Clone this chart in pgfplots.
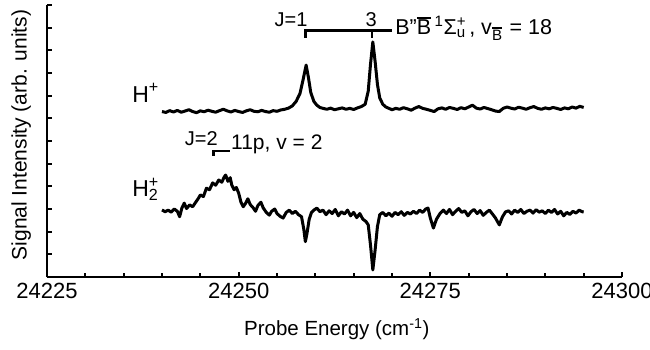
\documentclass[border=0pt]{standalone}
\usepackage{pgfplots}
\pgfplotsset{compat=1.18}
\usepackage{fontspec}
\setmainfont{Liberation Sans}
\newcommand{\ob}[1]{\leavevmode\vbox{\hrule height 1.8pt\kern 1pt\hbox{#1}}}
\begin{document}
\begin{tikzpicture}
\begin{axis}[
  name=ax,
  scale only axis,
  width=575pt, height=272pt,
  xmin=24225, xmax=24300, ymin=0, ymax=12,
  clip=false,
  axis x line=bottom, axis y line=left,
  axis line style={-, line width=2.8pt},
  xtick={24225,24250,24275,24300},
  xticklabels={24225,24250,24275,24300},
  scaled x ticks=false,
  minor x tick num=4,
  ytick={0,1,...,12},
  yticklabels={},
  tick align=inside,
  major tick length=5pt, minor tick length=4pt,
  every tick/.style={black, line width=2.2pt},
  xticklabel style={font=\fontsize{22}{24}\selectfont, yshift=-3pt},
  xlabel={Probe Energy (cm\textsuperscript{-1})},
  ylabel={Signal Intensity (arb. units)},
  xlabel style={font=\fontsize{20.5}{24}\selectfont, at={(axis description cs:0.504,-0.191)}, anchor=center},
  ylabel style={font=\fontsize{21}{24}\selectfont, at={(axis description cs:-0.045,0.522)}, anchor=center},
]
% H+ trace
\addplot[black, line width=3pt, line join=round] table {
24240.0 7.30
24240.5 7.26
24241.0 7.34
24241.5 7.28
24242.0 7.35
24242.5 7.27
24243.0 7.32
24243.5 7.38
24244.0 7.30
24244.5 7.25
24245.0 7.33
24245.5 7.29
24246.0 7.36
24246.5 7.31
24247.0 7.27
24247.5 7.34
24248.0 7.40
24248.5 7.33
24249.0 7.28
24249.5 7.35
24250.0 7.30
24250.5 7.26
24251.0 7.33
24251.5 7.38
24252.0 7.31
24252.5 7.29
24253.0 7.35
24253.5 7.30
24254.0 7.27
24254.5 7.34
24255.0 7.31
24255.5 7.37
24256.0 7.40
24256.5 7.45
24257.0 7.55
24257.5 7.75
24258.0 8.10
24258.4 8.70
24258.8 9.35
24259.1 8.80
24259.4 8.15
24259.8 7.75
24260.2 7.58
24260.6 7.48
24261.0 7.44
24261.5 7.40
24262.0 7.45
24262.5 7.38
24263.0 7.42
24263.5 7.46
24264.0 7.40
24264.5 7.44
24265.0 7.39
24265.5 7.46
24266.0 7.52
24266.5 7.62
24266.9 8.20
24267.2 9.40
24267.5 10.37
24267.8 9.50
24268.1 8.50
24268.4 7.90
24268.8 7.62
24269.2 7.50
24269.6 7.44
24270.0 7.38
24270.5 7.44
24271.0 7.40
24271.5 7.47
24272.0 7.42
24272.5 7.36
24273.0 7.45
24273.5 7.52
24274.0 7.44
24274.5 7.40
24275.0 7.35
24275.5 7.30
24276.0 7.42
24276.5 7.46
24277.0 7.40
24277.5 7.48
24278.0 7.44
24278.5 7.39
24279.0 7.47
24279.5 7.42
24280.0 7.50
24280.5 7.58
24281.0 7.45
24281.5 7.41
24282.0 7.48
24282.5 7.43
24283.0 7.38
24283.5 7.32
24284.0 7.30
24284.5 7.44
24285.0 7.50
24285.5 7.45
24286.0 7.41
24286.5 7.49
24287.0 7.45
24287.5 7.40
24288.0 7.47
24288.5 7.52
24289.0 7.44
24289.5 7.40
24290.0 7.46
24290.5 7.42
24291.0 7.48
24291.5 7.44
24292.0 7.39
24292.5 7.46
24293.0 7.42
24293.5 7.50
24294.0 7.45
24294.5 7.53
24295.0 7.48
};
% H2+ trace
\addplot[black, line width=3pt, line join=round] table {
24240.0 2.96
24240.4 2.88
24240.8 2.95
24241.2 2.86
24241.6 3.00
24242.0 2.90
24242.3 2.66
24242.6 3.05
24242.9 3.26
24243.2 3.02
24243.6 3.18
24244.0 3.10
24244.4 3.30
24244.8 3.50
24245.0 3.62
24245.4 3.55
24245.8 3.92
24246.2 3.85
24246.6 4.15
24247.0 4.05
24247.4 4.28
24247.8 4.18
24248.1 4.40
24248.3 4.50
24248.6 4.22
24248.9 4.38
24249.1 4.06
24249.4 3.85
24249.7 3.95
24250.0 3.70
24250.3 3.30
24250.6 3.10
24250.9 3.25
24251.2 3.45
24251.5 3.20
24251.9 3.05
24252.2 2.90
24252.5 3.15
24252.9 3.30
24253.2 3.05
24253.6 2.85
24254.0 2.73
24254.3 2.90
24254.7 3.00
24255.0 2.80
24255.4 2.68
24255.8 2.60
24256.2 2.85
24256.6 2.95
24257.0 2.80
24257.4 2.90
24257.8 2.75
24258.2 2.66
24258.5 2.10
24258.7 1.56
24258.9 1.90
24259.2 2.55
24259.5 2.85
24259.8 2.95
24260.2 3.04
24260.6 2.88
24261.0 2.95
24261.4 2.75
24261.8 2.92
24262.2 2.80
24262.6 2.98
24263.0 2.70
24263.4 2.88
24263.8 2.78
24264.2 2.95
24264.6 2.70
24265.0 2.85
24265.4 2.62
24265.8 2.80
24266.2 2.55
24266.6 2.45
24266.9 2.30
24267.2 1.40
24267.5 0.31
24267.8 1.20
24268.1 2.22
24268.4 2.75
24268.8 2.85
24269.2 2.70
24269.6 2.82
24270.0 2.68
24270.4 2.85
24270.8 2.75
24271.2 2.88
24271.6 2.72
24272.0 2.85
24272.4 2.78
24272.8 2.90
24273.2 2.80
24273.6 2.95
24274.0 2.85
24274.4 3.00
24274.7 3.04
24275.0 2.60
24275.4 2.16
24275.8 2.55
24276.3 2.82
24276.7 2.95
24277.1 2.80
24277.5 2.98
24277.9 2.75
24278.3 2.90
24278.7 3.02
24279.1 2.85
24279.5 2.92
24279.9 2.70
24280.3 2.88
24280.7 2.98
24281.1 2.80
24281.5 2.93
24281.9 2.72
24282.3 2.85
24282.7 2.95
24283.1 2.78
24283.5 2.60
24284.0 2.30
24284.4 2.65
24284.8 2.87
24285.2 2.92
24285.6 2.78
24286.0 2.95
24286.4 2.85
24286.8 2.98
24287.2 2.80
24287.6 2.90
24288.0 2.95
24288.4 2.82
24288.8 2.97
24289.2 2.86
24289.6 2.92
24290.0 2.80
24290.4 2.95
24290.8 2.85
24291.2 2.98
24291.6 2.78
24292.0 2.90
24292.4 2.70
24292.8 2.85
24293.2 2.76
24293.6 2.90
24294.0 2.82
24294.4 2.95
24294.8 2.88
24295.0 2.87
};
% annotations
\draw[line width=2.8pt] (axis cs:24258.7,10.55) -- (axis cs:24258.7,10.87) -- (axis cs:24270.0,10.87);
\draw[line width=2.8pt] (axis cs:24267.4,10.87) -- (axis cs:24267.4,10.55);
\node[anchor=base east, inner sep=0, font=\fontsize{20}{22}\selectfont] at (axis cs:24259.0,11.03) {J=1};
\node[anchor=base, inner sep=0, font=\fontsize{20}{22}\selectfont] at (axis cs:24267.3,11.03) {3};
\node[anchor=base west, inner sep=0, font=\fontsize{21.5}{24}\selectfont] at (axis cs:24270.4,10.70)
  {B"\ob{B}\,\textsuperscript{1}Σ\rlap{\textsuperscript{+}}\textsubscript{u}\,, v\textsubscript{\ob{B}}\,\,= 18};
\draw[line width=2.8pt] (axis cs:24246.7,5.34) -- (axis cs:24246.7,5.56) -- (axis cs:24248.9,5.56);
\node[anchor=base east, inner sep=0, font=\fontsize{20}{22}\selectfont] at (axis cs:24247.3,5.82) {J=2};
\node[anchor=base west, inner sep=0, font=\fontsize{21}{24}\selectfont] at (axis cs:24249.0,5.62) {11p, v = 2};
\node[anchor=base west, inner sep=0, font=\fontsize{23}{26}\selectfont] at (axis cs:24236.1,7.72) {H\textsuperscript{+}};
\node[anchor=base west, inner sep=0, font=\fontsize{23}{26}\selectfont] at (axis cs:24236.1,3.53) {H\rlap{\textsuperscript{+}}\textsubscript{2}};
\end{axis}
\pgfresetboundingbox
\path (ax.south west) ++(-47pt,-72pt) rectangle ++(650pt,349pt);
\end{tikzpicture}
\end{document}
